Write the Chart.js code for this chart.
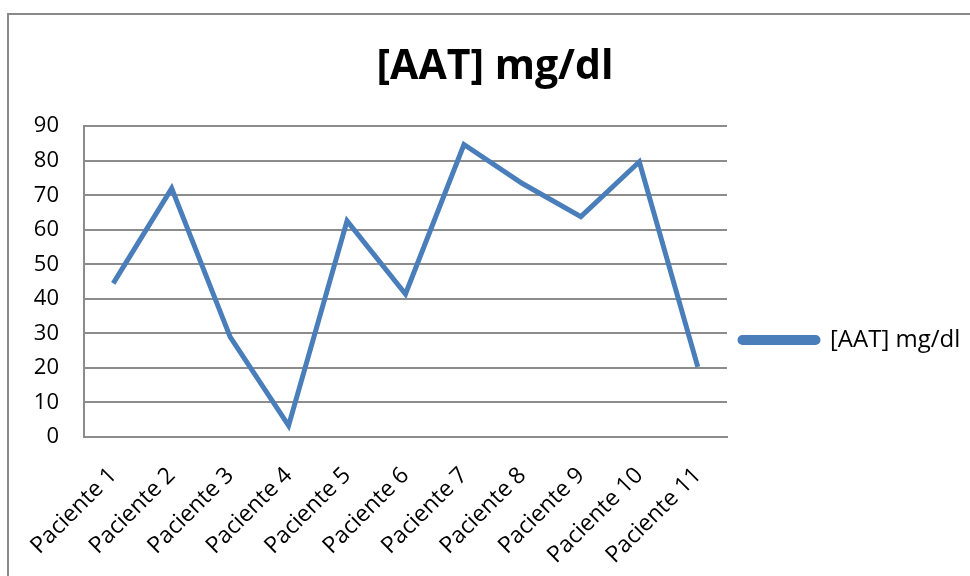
<!DOCTYPE html>
<html>
<head>
<meta charset="utf-8">
<script src="https://cdn.jsdelivr.net/npm/chart.js@4/dist/chart.umd.min.js"></script>
<style>
  html, body { margin: 0; padding: 0; background: #fff; overflow: hidden; }
  #marco { position: absolute; left: 7px; top: 13px; width: 1000px; height: 600px;
           border-left: 2px solid #898989; border-top: 2px solid #898989; }
  #contenedor { position: absolute; left: 0; top: 0; width: 970px; height: 576px; }
</style>
</head>
<body>
<div id="marco"></div>
<div id="contenedor"><canvas id="graficoAAT"></canvas></div>
<script>
"use strict";

var pacientes = ['Paciente 1', 'Paciente 2', 'Paciente 3', 'Paciente 4', 'Paciente 5', 'Paciente 6',
                 'Paciente 7', 'Paciente 8', 'Paciente 9', 'Paciente 10', 'Paciente 11'];
var valoresAAT = [44.5, 72, 29, 3.3, 62.6, 41.4, 84.7, 73.4, 63.8, 79.7, 20.3];
var ticksY = [0, 10, 20, 30, 40, 50, 60, 70, 80, 90];
var nombreSerie = '[AAT] mg/dl';

var colorLinea = '#4a7ebb';
var colorRejilla = '#8c8c8c';
var fuente = '"Open Sans", "Liberation Sans", sans-serif';

// the legend sits lower than the middle of the plot, move it after layout
var moverLeyenda = {
  id: 'moverLeyenda',
  afterLayout: function(chart) {
    var lg = chart.legend;
    var dy = 340 - (lg.top + lg.bottom) / 2;
    lg.top += dy;
    lg.bottom += dy;
  }
};

var ctx = document.getElementById('graficoAAT').getContext('2d');
var grafico = new Chart(ctx, {
  type: 'line',
  data: {
    labels: pacientes,
    datasets: [{
      label: nombreSerie,
      data: valoresAAT,
      borderColor: colorLinea,
      backgroundColor: colorLinea,
      borderWidth: 5,
      borderJoinStyle: 'miter',
      borderCapStyle: 'butt',
      pointRadius: 0,
      pointHoverRadius: 0,
      tension: 0,
      fill: false
    }]
  },
  options: {
    responsive: true,
    maintainAspectRatio: false,
    animation: false,
    layout: { padding: { left: 20, right: 0, top: 0, bottom: 0 } },
    plugins: {
      title: {
        display: true,
        text: nombreSerie,
        color: '#000',
        font: { family: fuente, size: 41, weight: 'bold' },
        padding: { top: 43, bottom: 34 }
      },
      legend: {
        display: true,
        position: 'right',
        align: 'center',
        maxWidth: 243,
        labels: {
          color: '#000',
          font: { family: fuente, size: 24 },
          boxWidth: 78,
          boxHeight: 5,
          useBorderRadius: true,
          borderRadius: 2.5,
          padding: 13
        }
      },
      tooltip: { enabled: false }
    },
    scales: {
      x: {
        offset: true,
        grid: { display: false, drawTicks: false },
        border: { display: true, color: colorRejilla, width: 2 },
        ticks: {
          color: '#000',
          font: { family: fuente, size: 23 },
          minRotation: 45,
          maxRotation: 45,
          autoSkip: false,
          padding: 25
        },
        afterFit: function(scale) { scale.height = 139; }
      },
      y: {
        min: 0,
        max: 90,
        afterBuildTicks: function(scale) {
          scale.ticks = ticksY.map(function(v) { return { value: v }; });
        },
        grid: { color: colorRejilla, lineWidth: 2, drawTicks: false },
        border: { display: true, color: colorRejilla, width: 2 },
        ticks: {
          color: '#000',
          font: { family: fuente, size: 22 },
          padding: 25
        },
        afterFit: function(scale) { scale.width = 64; }
      }
    }
  },
  plugins: [moverLeyenda]
});
</script>
</body>
</html>
